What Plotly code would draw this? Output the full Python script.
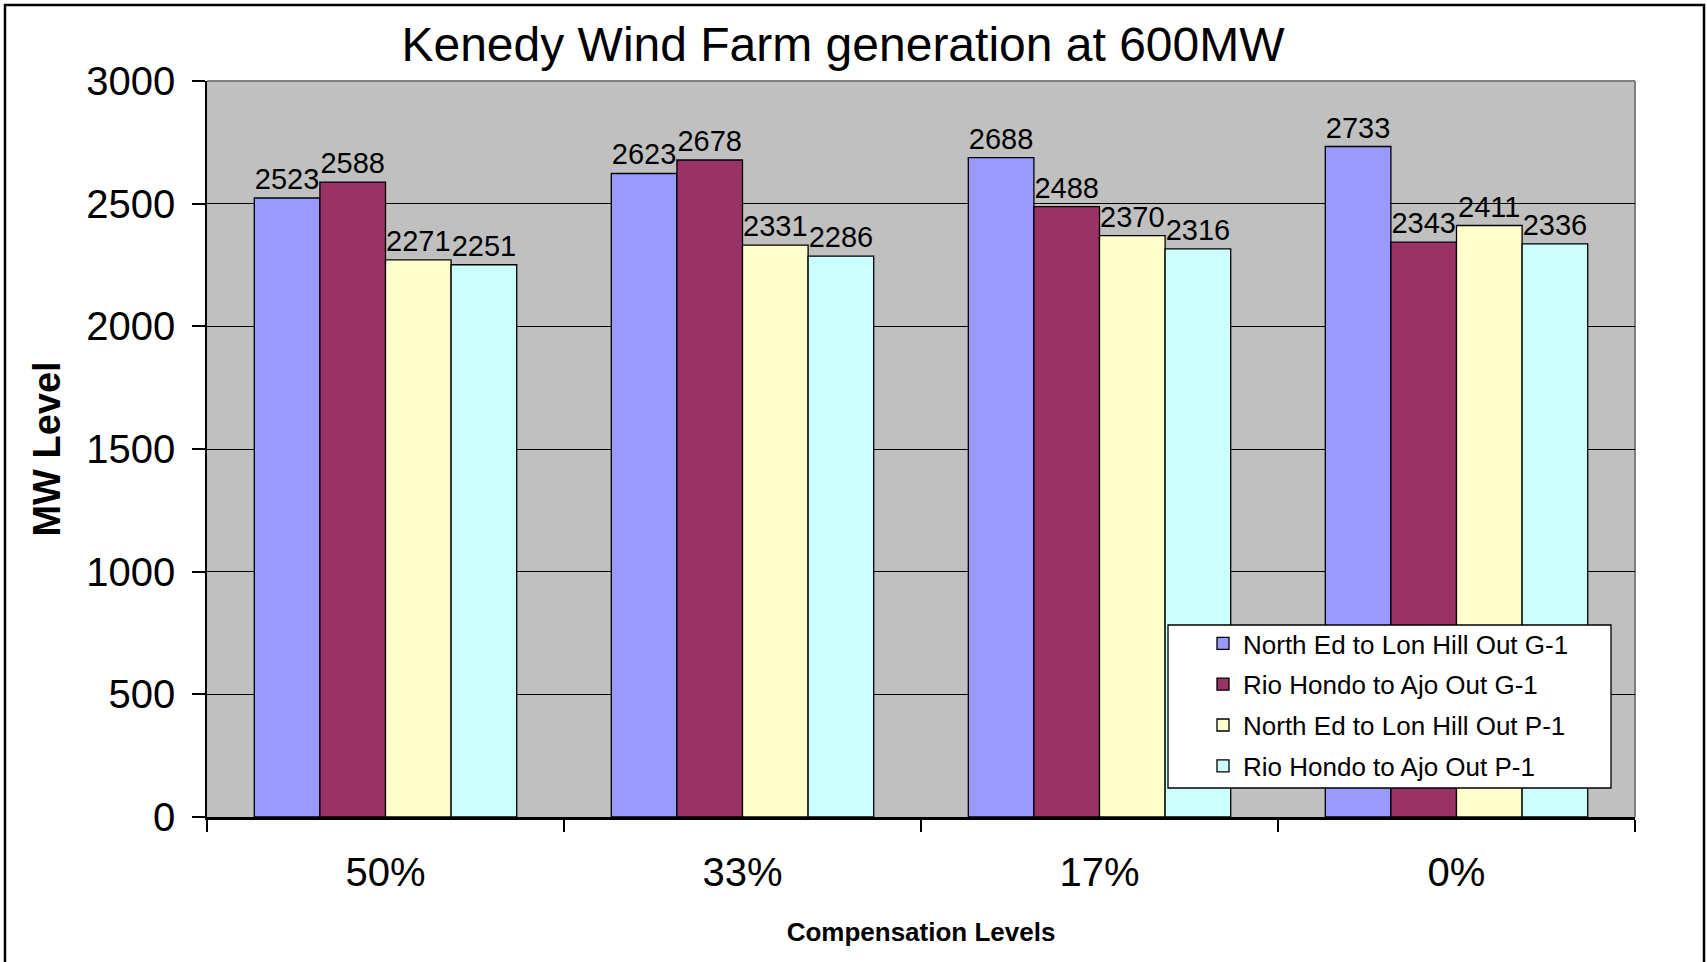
import plotly.graph_objects as go

# Compensation levels and MW results for each outage case
categories = ["50%", "33%", "17%", "0%"]
north_ed_g1 = [2523, 2623, 2688, 2733]
rio_hondo_g1 = [2588, 2678, 2488, 2343]
north_ed_p1 = [2271, 2331, 2370, 2411]
rio_hondo_p1 = [2251, 2286, 2316, 2336]

series_names = [
    "North Ed to Lon Hill Out G-1",
    "Rio Hondo to Ajo Out G-1",
    "North Ed to Lon Hill Out P-1",
    "Rio Hondo to Ajo Out P-1",
]
series_values = [north_ed_g1, rio_hondo_g1, north_ed_p1, rio_hondo_p1]
series_colors = ["#9999FF", "#993366", "#FFFFCC", "#CCFFFF"]

y_ticks = [0, 500, 1000, 1500, 2000, 2500, 3000]

W, H = 1707, 962
L, R, T, B = 207, 72, 81, 145
PW, PH = W - L - R, H - T - B

FONT = "Liberation Sans, Arial, sans-serif"


def px_x(p):
    return (p - L) / PW


def px_y(p):
    return (H - B - p) / PH


fig = go.Figure()
for i, (name, vals, col) in enumerate(zip(series_names, series_values, series_colors)):
    fig.add_trace(go.Bar(
        x=categories, y=vals, name=name,
        marker=dict(color=col, line=dict(color="black", width=1.3)),
        text=[str(v) for v in vals], textposition="outside",
        textfont=dict(family=FONT, size=29, color="black"),
        constraintext="none", cliponaxis=False,
        legendgroup=f"g{i}",
    ))

fig.update_layout(
    width=W, height=H,
    margin=dict(l=L, r=R, t=T, b=B, pad=0),
    paper_bgcolor="white", plot_bgcolor="#C0C0C0",
    font=dict(family=FONT, color="black"),
    barmode="group", bargap=0.265, bargroupgap=0,
    showlegend=True,
    title=dict(
        text="Kenedy Wind Farm generation at 600MW",
        font=dict(family=FONT, size=48, color="black"),
        x=843 / W, xref="container", xanchor="center",
        y=1 - 44 / H, yref="container", yanchor="middle",
    ),
    legend=dict(
        x=px_x(1203), y=px_y(620), xanchor="left", yanchor="top",
        bgcolor="rgba(0,0,0,0)", borderwidth=0,
        font=dict(family=FONT, size=26, color="black"),
        tracegroupgap=4, traceorder="grouped",
    ),
    xaxis=dict(
        type="category", tickson="boundaries",
        ticks="outside", ticklen=12, tickwidth=1.5, tickcolor="black",
        showline=True, linecolor="black", linewidth=2.5,
        showgrid=False, zeroline=False,
        tickfont=dict(family=FONT, size=40, color="black"),
        ticklabelstandoff=18,
        title=dict(text="<b>Compensation Levels</b>",
                   font=dict(family=FONT, size=26, color="black"), standoff=31),
    ),
    yaxis=dict(
        range=[0, 3000], tickvals=y_ticks,
        ticks="outside", ticklen=13, tickwidth=1.5, tickcolor="black",
        showline=True, linecolor="black", linewidth=1.5,
        showgrid=True, gridcolor="black", gridwidth=1.3,
        zeroline=False,
        tickfont=dict(family=FONT, size=40, color="black"),
        ticklabelstandoff=9,
        title=dict(text="<b>MW Level</b>",
                   font=dict(family=FONT, size=38, color="black"), standoff=14),
    ),
)

# gray plot-area frame along top and right
fig.add_shape(type="line", xref="paper", yref="paper", x0=0, x1=1, y0=1, y1=1,
              line=dict(color="#808080", width=2), layer="below")
fig.add_shape(type="line", xref="paper", yref="paper", x0=1, x1=1, y0=0, y1=1,
              line=dict(color="#808080", width=2), layer="below")

# legend box
fig.add_shape(type="rect", xref="paper", yref="paper",
              x0=px_x(1168), x1=px_x(1611), y0=px_y(788), y1=px_y(625),
              fillcolor="white", line=dict(color="black", width=1.3), layer="above")

# chart outer border
fig.add_shape(type="rect", xref="paper", yref="paper",
              x0=px_x(5), x1=px_x(1704), y0=px_y(970), y1=px_y(5),
              fillcolor="rgba(0,0,0,0)", line=dict(color="black", width=2.5), layer="above")

fig.write_html("out.html")
